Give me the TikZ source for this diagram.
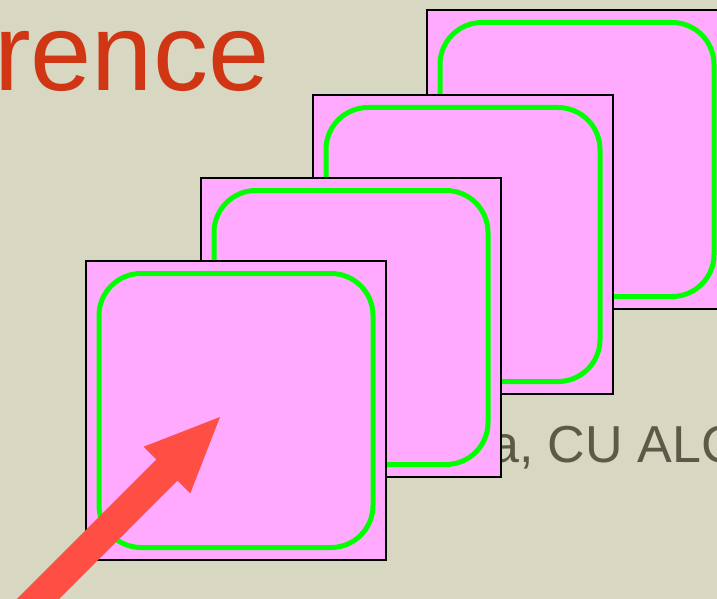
\documentclass[tikz,border=0pt]{standalone}
\usepackage{fontspec}
\setmainfont{Liberation Sans}
\definecolor{bg}{RGB}{216,215,194}
\definecolor{pinkfill}{RGB}{255,170,255}
\definecolor{greenline}{RGB}{0,255,0}
\definecolor{titlered}{RGB}{208,54,20}
\definecolor{graytext}{RGB}{92,90,70}
\definecolor{arrowred}{RGB}{255,79,69}
\begin{document}
\begin{tikzpicture}[x=1pt,y=-1pt,
  card/.style={draw=black, line width=2.2pt, fill=pinkfill, minimum width=300pt, minimum height=299pt, inner sep=0pt, outer sep=0pt, anchor=north west},
  ring/.style={draw=greenline, line width=5pt, rounded corners=42pt, minimum width=274pt, minimum height=274pt, inner sep=0pt, outer sep=0pt},
  titletext/.style={anchor=base west, inner sep=0pt, text=titlered, font=\fontsize{110}{110}\selectfont},
  captiontext/.style={anchor=base west, inner sep=0pt, text=graytext, font=\fontsize{52}{52}\selectfont}]
\fill[bg] (0,0) rectangle (717,599);
\useasboundingbox (0,0) rectangle (717,599);
\clip (0,0) rectangle (717,599);
\node[titletext] (title) at (-6,91) {rence};
\node[captiontext] (caption) at (490,462) {a, CU ALC};
\node[card] (c4) at (427,10) {};
\node[ring] (g4) at (c4.center) {};
\node[card] (c3) at (313,95) {};
\node[ring] (g3) at (c3.center) {};
\node[card] (c2) at (201,178) {};
\node[ring] (g2) at (c2.center) {};
\node[card] (c1) at (86,261) {};
\node[ring] (g1) at (c1.center) {};
\coordinate (tip) at (220,417);
\fill[arrowred] (tip) -- ++(-76.3,29.7) -- ++(12.7,12.7) -- ++(-159.1,159.1) -- ++(21.2,21.2) -- ++(159.1,-159.1) -- ++(12.7,12.7) -- cycle;
\end{tikzpicture}
\end{document}
